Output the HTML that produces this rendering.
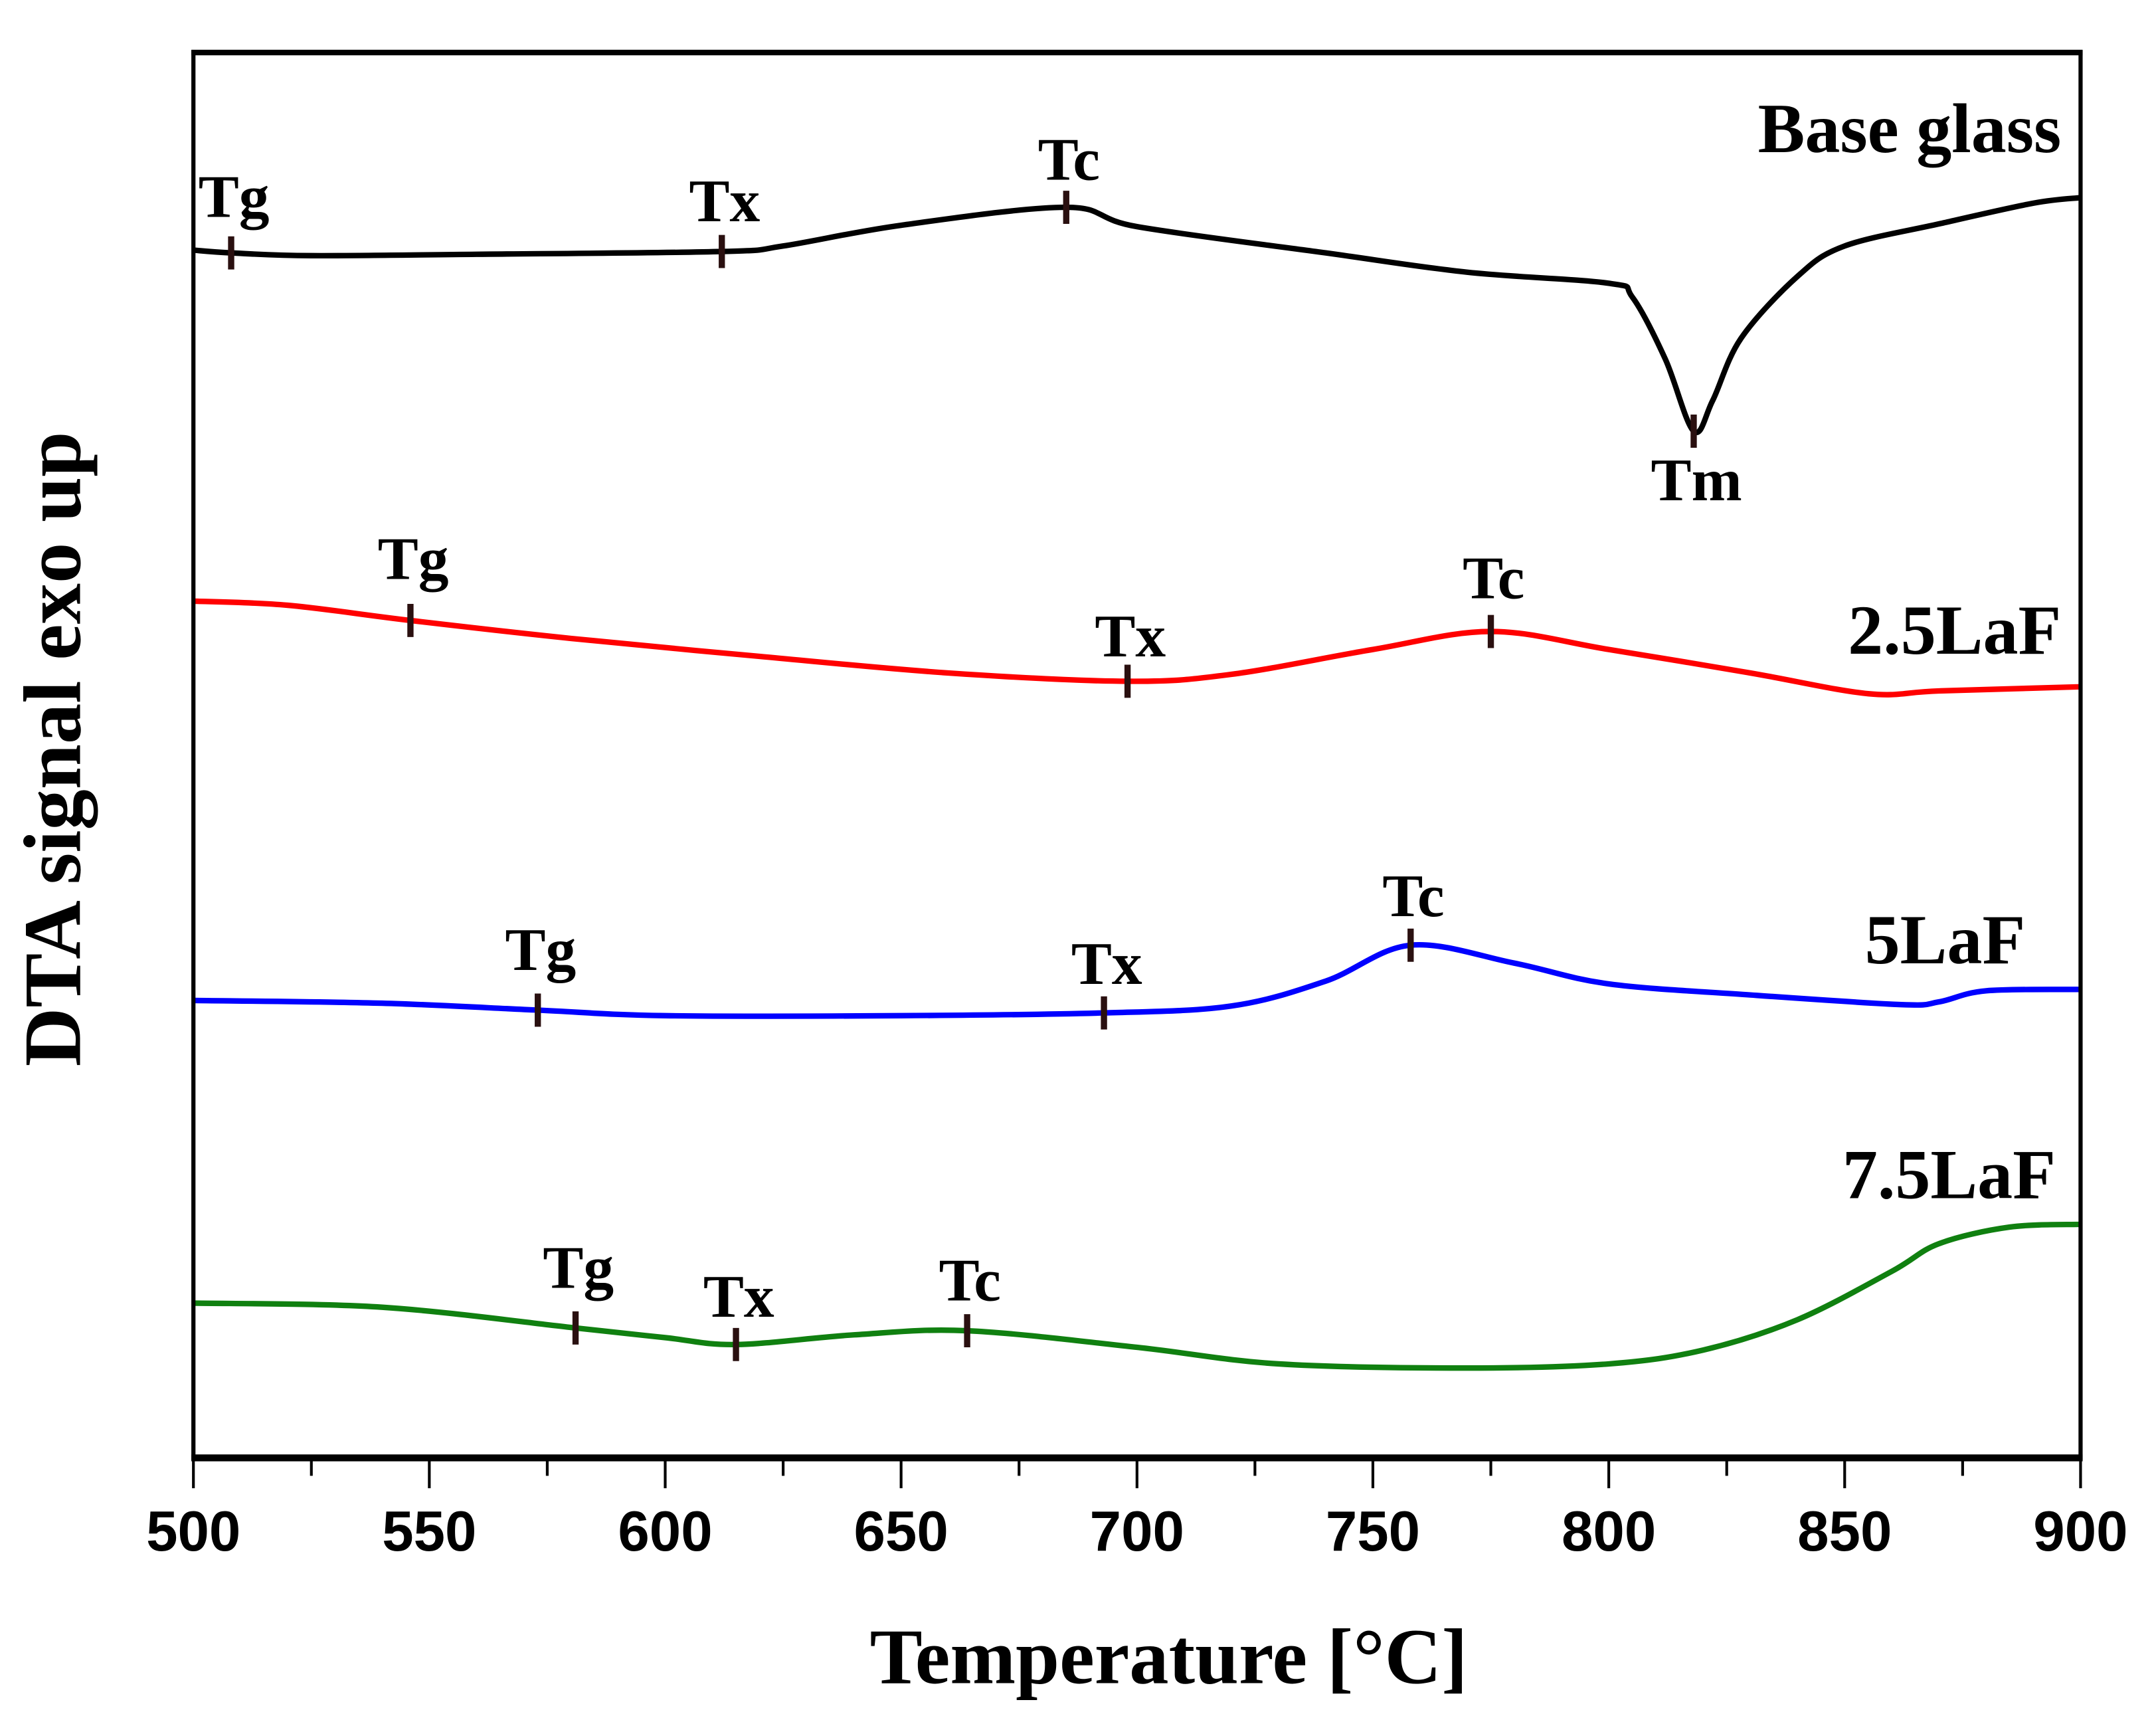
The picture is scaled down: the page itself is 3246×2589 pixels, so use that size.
<!DOCTYPE html>
<html><head><meta charset="utf-8">
<style>html,body{margin:0;padding:0;background:#fff}svg{display:block}</style>
</head><body>
<svg id="chart" width="3246" height="2589" viewBox="0 0 1560.6 1244.7" xmlns="http://www.w3.org/2000/svg">
<rect width="1560.6" height="1244.7" fill="#fff"/>
<g id="plot"></g>
</svg>
<script>
// x ticks
const xTicks = [500,550,600,650,700,750,800,850,900];
const xMinor = [525,575,625,675,725,775,825,875];
// series: temperature and signal (arbitrary units, exo up)
const baseT = [500,508,525,560,612,625,650,685,700,740,770,800,805,812,818,822,828,840,850,870,890,900];
const baseV = [876,874,872,873,875,879,894,907,893,874,860,852,842,797,745,767,812,857,879,895,910,914];
const laf25T = [500,520,546,580,620,660,698,720,750,775,800,830,855,870,900];
const laf25V = [622,619,608,595,582,570,564,569,587,600,587,570,555,557,560];
const laf5T = [500,540,573,600,650,693,720,740,758,780,800,830,862,870,880,900];
const laf5V = [333,331,326,322,322,324,329,347,373,360,345,337,330,332,340,341];
const laf75T = [500,540,581,600,615,640,664,700,730,770,800,820,840,860,870,885,900];
const laf75V = [114,111,96,89,84,91,94,82,70,67,70,80,102,137,157,169,171];
// characteristic markers
const markT = [508,612,685,818, 546,698,775, 573,693,758, 581,615,664];
const markLbl = ['Tg','Tx','Tc','Tm','Tg','Tx','Tc','Tg','Tx','Tc','Tg','Tx','Tc'];
const markSeries = [0,0,0,0,1,1,1,2,2,2,3,3,3];

const L=140,R=1506,T=38,B=1055;
const xS = t => L + (t-500)*(R-L)/400;
const yS = v => 1057 - v;
const NS='http://www.w3.org/2000/svg';
const g=document.getElementById('plot');
function el(tag,attrs,parent){const e=document.createElementNS(NS,tag);for(const k in attrs)e.setAttribute(k,attrs[k]);(parent||g).appendChild(e);return e;}
function interp(ts,vs,t){for(let i=0;i<ts.length-1;i++){if(t>=ts[i]&&t<=ts[i+1]){const f=(t-ts[i])/(ts[i+1]-ts[i]);return vs[i]+f*(vs[i+1]-vs[i]);}}return vs[vs.length-1];}
function smooth(ts,vs){const p=ts.map((t,i)=>[xS(t),yS(vs[i])]);let d=`M${p[0][0]},${p[0][1]}`;for(let i=0;i<p.length-1;i++){const p0=p[i-1]||p[i],p1=p[i],p2=p[i+1],p3=p[i+2]||p2;const c1=[p1[0]+(p2[0]-p0[0])/6,p1[1]+(p2[1]-p0[1])/6],c2=[p2[0]-(p3[0]-p1[0])/6,p2[1]-(p3[1]-p1[1])/6];d+=` C${c1[0]},${c1[1]} ${c2[0]},${c2[1]} ${p2[0]},${p2[1]}`;}return d;}

const series=[[baseT,baseV,'#000','base-glass-curve'],[laf25T,laf25V,'#ff0000','laf-2-5-curve'],[laf5T,laf5V,'#0000ff','laf-5-curve'],[laf75T,laf75V,'#108010','laf-7-5-curve']];
series.forEach(s=>{
  const p=el('path',{d:smooth(s[0],s[1]),fill:'none',stroke:s[2],'stroke-width':4,'stroke-linejoin':'round'});
  
  
});
const lblDy=[-26,-22,-20,50, -30,-18,-24, -29,-21,-21, -29,-20,-22];
markT.forEach((t,i)=>{
  const s=series[markSeries[i]];const x=xS(t),y=yS(interp(s[0],s[1],t));
  const m=el('line',{x1:x,x2:x,y1:y-12,y2:y+12,stroke:'#2a1010','stroke-width':4.5});
  
  
  const tx=el('text',{x:x+2,y:y+lblDy[i],'text-anchor':'middle','font-family':'Liberation Serif, serif','font-weight':'bold','font-size':44});
  tx.textContent=markLbl[i];
  
  
});
const names=['Base glass','2.5LaF','5LaF','7.5LaF'];
const nameX=[1492,1492,1466,1488];
const nameY=[110,473,697,867];
names.forEach((n,i)=>{
  const t=el('text',{x:nameX[i],y:nameY[i],'text-anchor':'end','font-family':'Liberation Serif, serif','font-weight':'bold','font-size':51});
  t.textContent=n;
  
  
});
const fr=el('rect',{x:L,y:T,width:R-L,height:B-T,fill:'none',stroke:'#000','stroke-width':3});


const bx=el('line',{x1:L-1.5,x2:R+1.5,y1:B,y2:B,stroke:'#000','stroke-width':5});


el('line',{x1:L-1.5,x2:R+1.5,y1:T,y2:T,stroke:'#000','stroke-width':4});
xTicks.forEach(t=>{
  const l=el('line',{x1:xS(t),x2:xS(t),y1:B,y2:B+22,stroke:'#000','stroke-width':2});
  
  
  const tx=el('text',{x:xS(t),y:B+67,'text-anchor':'middle','font-family':'Liberation Sans, sans-serif','font-weight':'bold','font-size':41});
  tx.textContent=t;
  
  
});
xMinor.forEach(t=>{
  const l=el('line',{x1:xS(t),x2:xS(t),y1:B,y2:B+13,stroke:'#000','stroke-width':2});
  
  
});
const xt=el('text',{x:846,y:1218,'text-anchor':'middle','font-family':'Liberation Serif, serif','font-weight':'bold','font-size':57});
xt.textContent='Temperature [°C]';


const yt=el('text',{x:0,y:0,transform:'translate(58,542) rotate(-90)','text-anchor':'middle','font-family':'Liberation Serif, serif','font-weight':'bold','font-size':59});
yt.textContent='DTA signal exo up';


</script>
</body></html>
